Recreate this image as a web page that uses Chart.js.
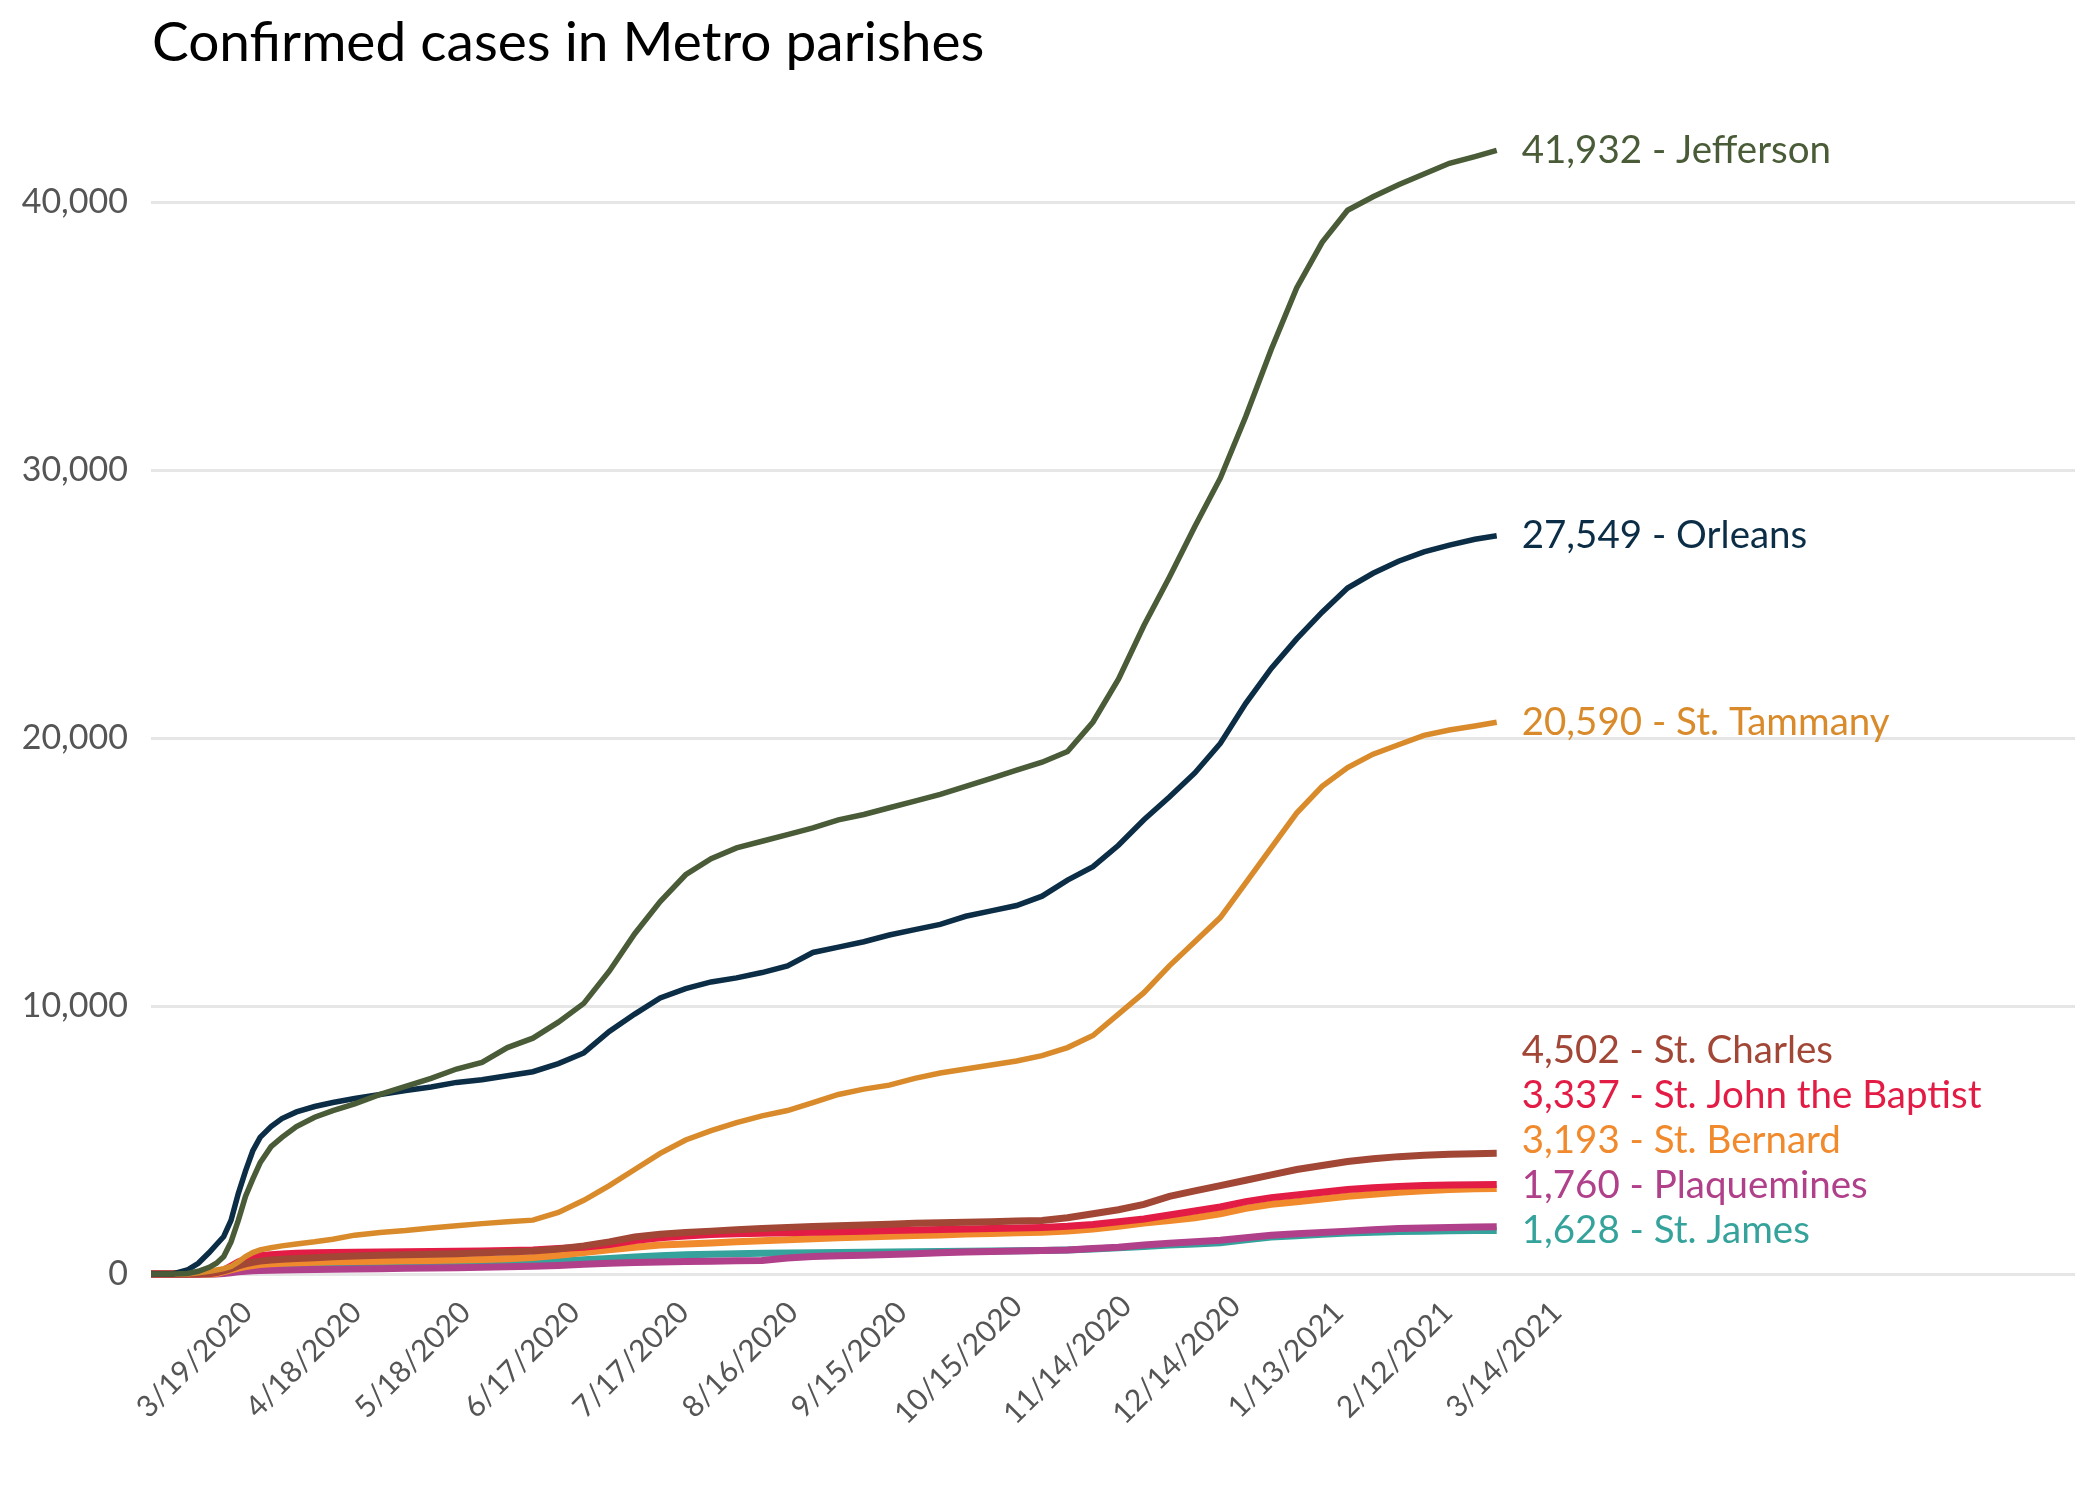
<!DOCTYPE html>
<html>
<head>
<meta charset="utf-8">
<script src="https://cdn.jsdelivr.net/npm/chart.js@4/dist/chart.umd.min.js"></script>
<style>
  html, body { margin: 0; padding: 0; background: #ffffff; }
  #wrap { width: 2100px; height: 1500px; position: relative; }
</style>
</head>
<body>
<div id="wrap"><canvas id="c" width="2100" height="1500"></canvas></div>
<script>
// ---- DATA (day 0 = 3/7/2020) ----
const chartTitle = "Confirmed cases in Metro parishes";
const days = [0, 6, 10, 13, 16, 18, 20, 22, 24, 26, 28, 30, 33, 36, 40, 45, 50, 56, 63, 70, 77, 84, 91, 98, 105, 112, 119, 126, 133, 140, 147, 154, 161, 168, 175, 182, 189, 196, 203, 210, 217, 224, 231, 238, 245, 252, 259, 266, 273, 280, 287, 294, 301, 308, 315, 322, 329, 336, 343, 350, 357, 364, 370];

const jefferson = [0, 0, 20, 100, 250, 400, 650, 1200, 2000, 2900, 3550, 4150, 4750, 5100, 5500, 5850, 6100, 6350, 6700, 7000, 7300, 7650, 7900, 8450, 8800, 9400, 10100, 11300, 12700, 13900, 14900, 15500, 15900, 16150, 16400, 16650, 16950, 17150, 17400, 17650, 17900, 18200, 18500, 18800, 19100, 19500, 20600, 22200, 24200, 26000, 27900, 29700, 32000, 34500, 36800, 38500, 39700, 40200, 40650, 41050, 41450, 41700, 41932];
const orleans = [0, 0, 150, 400, 800, 1100, 1400, 2000, 3000, 3850, 4600, 5100, 5500, 5800, 6050, 6250, 6400, 6550, 6700, 6850, 6980, 7150, 7250, 7400, 7550, 7850, 8250, 9050, 9700, 10300, 10650, 10900, 11050, 11250, 11500, 12000, 12200, 12400, 12650, 12850, 13050, 13350, 13550, 13750, 14100, 14700, 15200, 16000, 16950, 17800, 18700, 19800, 21300, 22600, 23700, 24700, 25600, 26150, 26600, 26950, 27200, 27420, 27549];
const stTammany = [0, 0, 0, 50, 100, 150, 200, 280, 450, 650, 800, 900, 980, 1050, 1120, 1200, 1300, 1450, 1550, 1620, 1720, 1800, 1880, 1950, 2010, 2300, 2750, 3300, 3900, 4500, 5000, 5350, 5650, 5900, 6100, 6400, 6700, 6900, 7050, 7300, 7500, 7650, 7800, 7950, 8150, 8450, 8900, 9700, 10500, 11500, 12400, 13300, 14600, 15900, 17200, 18200, 18900, 19400, 19750, 20100, 20300, 20450, 20590];
const stCharles = [0, 0, 0, 10, 30, 60, 120, 200, 300, 380, 440, 480, 520, 550, 580, 610, 640, 670, 700, 720, 740, 760, 790, 820, 860, 930, 1050, 1200, 1380, 1480, 1550, 1600, 1650, 1700, 1740, 1770, 1800, 1830, 1860, 1890, 1910, 1930, 1950, 1980, 2000, 2100, 2250, 2400, 2600, 2900, 3100, 3300, 3500, 3700, 3900, 4050, 4200, 4300, 4380, 4430, 4470, 4490, 4502];
const stJohn = [0, 0, 0, 0, 20, 50, 150, 300, 450, 550, 620, 680, 720, 750, 770, 790, 800, 810, 820, 830, 840, 850, 860, 880, 900, 950, 1000, 1100, 1250, 1350, 1420, 1470, 1500, 1520, 1540, 1560, 1580, 1600, 1620, 1640, 1660, 1680, 1700, 1720, 1740, 1780, 1850, 1950, 2050, 2200, 2350, 2500, 2700, 2850, 2950, 3050, 3150, 3220, 3270, 3300, 3320, 3330, 3337];
const stBernard = [0, 0, 0, 0, 0, 20, 80, 150, 220, 280, 320, 350, 380, 400, 420, 440, 460, 470, 480, 490, 500, 520, 540, 570, 620, 700, 800, 900, 1000, 1080, 1120, 1160, 1200, 1240, 1280, 1320, 1350, 1380, 1410, 1440, 1460, 1490, 1510, 1540, 1560, 1600, 1680, 1780, 1900, 2000, 2100, 2250, 2450, 2600, 2700, 2800, 2900, 2980, 3050, 3110, 3150, 3180, 3193];
const plaquemines = [0, 0, 0, 0, 0, 0, 20, 50, 80, 100, 120, 130, 140, 150, 160, 170, 180, 190, 200, 210, 220, 230, 250, 270, 290, 320, 360, 400, 430, 450, 470, 480, 490, 500, 600, 650, 680, 700, 730, 760, 790, 820, 840, 860, 880, 900, 950, 1000, 1080, 1150, 1200, 1260, 1350, 1450, 1500, 1550, 1600, 1650, 1700, 1720, 1740, 1750, 1760];
const stJames = [0, 0, 0, 0, 0, 20, 80, 150, 200, 240, 260, 280, 290, 300, 310, 320, 330, 340, 350, 360, 370, 380, 390, 410, 440, 480, 530, 580, 630, 680, 720, 740, 760, 770, 780, 790, 800, 810, 820, 830, 840, 850, 860, 870, 880, 900, 930, 980, 1030, 1080, 1120, 1170, 1280, 1380, 1430, 1480, 1530, 1560, 1590, 1600, 1615, 1622, 1628];

const seriesNames = ["Jefferson", "Orleans", "St. Tammany", "St. Charles", "St. John the Baptist", "St. Bernard", "Plaquemines", "St. James"];
const seriesValues = [jefferson, orleans, stTammany, stCharles, stJohn, stBernard, plaquemines, stJames];
const seriesColors = ["#4a5b37", "#0b2d46", "#d98b2c", "#a24636", "#e31c46", "#f08a2c", "#b0408a", "#35a39c"];

const xTickDays = [12, 42, 72, 102, 132, 162, 192, 222, 252, 282, 312, 342, 372];
const xTickLabels = ["3/19/2020", "4/18/2020", "5/18/2020", "6/17/2020", "7/17/2020", "8/16/2020", "9/15/2020", "10/15/2020", "11/14/2020", "12/14/2020", "1/13/2021", "2/12/2021", "3/14/2021"];
const yTicks = [0, 10000, 20000, 30000, 40000];

const FONT = "Lato, 'Noto Sans', sans-serif";

const fmt = v => v.toLocaleString('en-US');

const overlayPlugin = {
  id: 'overlay',
  afterDraw(chart) {
    const ctx = chart.ctx;
    const xs = chart.scales.x, ys = chart.scales.y;
    ctx.save();
    // title
    ctx.fillStyle = '#000000';
    ctx.font = "55px " + FONT;
    ctx.textAlign = 'left';
    ctx.textBaseline = 'alphabetic';
    ctx.fillText(chartTitle, 152, 61);

    // rotated x tick labels, centred on their tick
    ctx.font = "30px " + FONT;
    ctx.fillStyle = '#555555';
    ctx.textAlign = 'center';
    ctx.textBaseline = 'middle';
    xTickDays.forEach((d, i) => {
      const px = xs.getPixelForValue(d);
      ctx.save();
      ctx.translate(px, 1360);
      ctx.rotate(-Math.PI / 4);
      ctx.fillText(xTickLabels[i], 0, 0);
      ctx.restore();
    });

    // end labels with simple de-overlap (from bottom upward)
    ctx.font = "38.5px " + FONT;
    ctx.textAlign = 'left';
    ctx.textBaseline = 'middle';
    const lastIdx = days.length - 1;
    const lx = xs.getPixelForValue(days[lastIdx]) + 25;
    const items = seriesValues.map((vals, i) => ({ i, v: vals[lastIdx], y: ys.getPixelForValue(vals[lastIdx]) }));
    items.sort((a, b) => a.v - b.v);
    const gap = 45;
    let prevY = Infinity;
    items.forEach(it => {
      let y = it.y;
      if (y > prevY - gap) y = prevY - gap;
      it.ly = y;
      prevY = y;
    });
    items.forEach(it => {
      ctx.fillStyle = seriesColors[it.i];
      ctx.fillText(fmt(it.v) + " - " + seriesNames[it.i], lx, it.ly);
    });
    ctx.restore();
  }
};

function build() {
  const ctx = document.getElementById('c').getContext('2d');
  new Chart(ctx, {
    type: 'line',
    data: {
      datasets: seriesNames.map((name, i) => ({
        label: name,
        data: days.map((d, k) => ({ x: d, y: seriesValues[i][k] })),
        borderColor: seriesColors[i],
        backgroundColor: seriesColors[i],
        borderWidth: i < 3 ? 5.5 : 7,
        pointRadius: 0,
        tension: 0,
        fill: false,
        clip: 12
      }))
    },
    options: {
      responsive: false,
      animation: false,
      devicePixelRatio: 1,
      layout: { padding: { top: 95, right: 25, bottom: 226, left: 0 } },
      plugins: { legend: { display: false }, title: { display: false }, tooltip: { enabled: false } },
      scales: {
        x: { type: 'linear', display: false, min: 0, max: 529 },
        y: {
          type: 'linear', min: 0, max: 44000,
          afterFit(s) { s.width = 151; },
          afterBuildTicks(s) { s.ticks = yTicks.map(v => ({ value: v })); },
          border: { display: false },
          grid: { color: '#e6e6e6', lineWidth: 3, drawTicks: false },
          ticks: {
            padding: 23,
            color: '#555555',
            font: { family: FONT, size: 34 },
            callback: v => fmt(v)
          }
        }
      }
    },
    plugins: [overlayPlugin]
  });
}
if (document.fonts && document.fonts.load) {
  Promise.all([document.fonts.load("55px Lato"), document.fonts.load("30px Lato")]).then(build, build);
} else { build(); }
</script>
</body>
</html>
